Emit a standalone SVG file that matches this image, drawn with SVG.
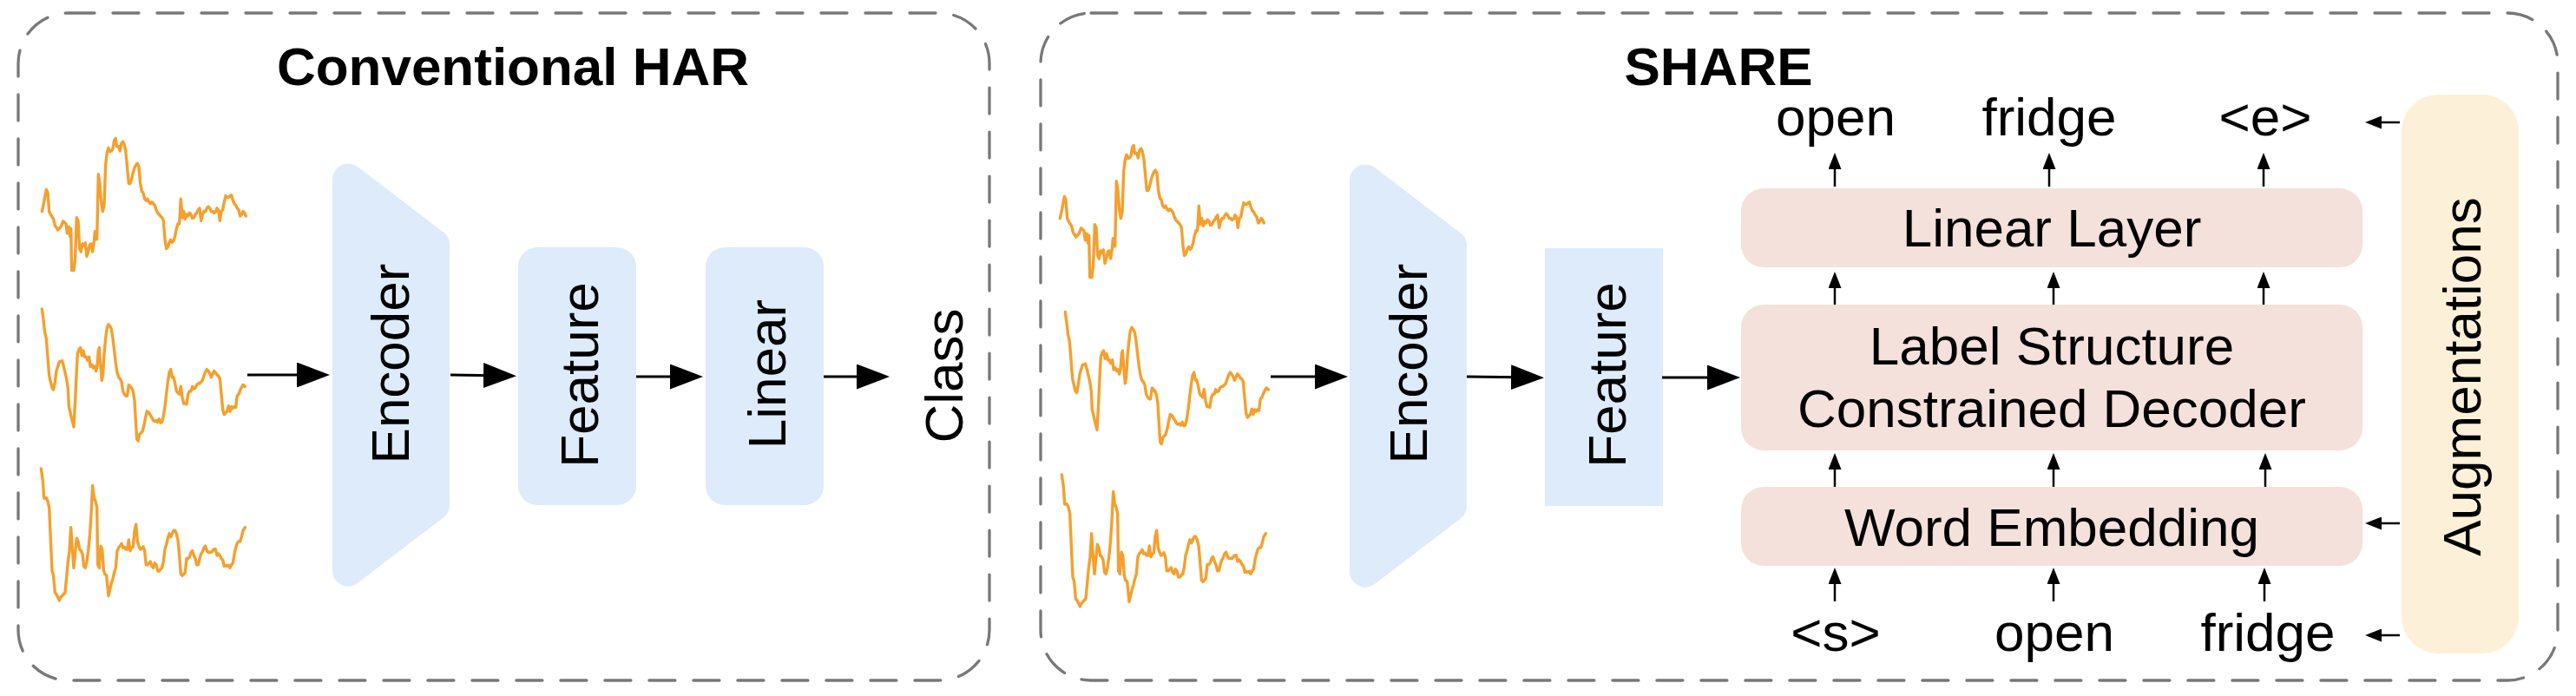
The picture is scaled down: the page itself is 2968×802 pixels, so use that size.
<svg xmlns="http://www.w3.org/2000/svg" width="2968" height="802" viewBox="0 0 2968 802">
<style>
.frame{fill:none;stroke:#787878;stroke-width:3.3;stroke-dasharray:30 21;stroke-linecap:round}
.blue{fill:#DDEBFB}
.pink{fill:#F4E1DC}
.cream{fill:#FCF1D8}
.t{font-family:"Liberation Sans",Arial,Helvetica,sans-serif;font-size:62px;fill:#000}
.title{font-weight:bold}
.mid{text-anchor:middle}
.sig{fill:none;stroke:#F4A02E;stroke-width:10.2;stroke-linejoin:round;stroke-linecap:round}
.big{stroke:#000;stroke-width:3.2;fill:none}
.small{stroke:#000;stroke-width:2.5;fill:none}
</style>
<defs>
<marker id="hb" markerUnits="userSpaceOnUse" markerWidth="38" markerHeight="29" viewBox="0 0 38 29" refX="28" refY="14.5" orient="auto">
<path d="M0,0 L38,14.5 L0,29 z" fill="#000"/>
</marker>
<marker id="hs" markerUnits="userSpaceOnUse" markerWidth="19" markerHeight="15" viewBox="0 0 19 15" refX="13" refY="7.5" orient="auto">
<path d="M0,0 L19,7.5 L0,15 z" fill="#000"/>
</marker>
<path id="s1" d="M55,290 L62,260 70,220 75,230 80,290 85,300 95,315 100,335 110,350 120,340 128,322 138,330 142,360 148,340 152,370 155,345 158,480 165,480 170,440 175,310 180,320 185,410 190,420 195,395 200,400 205,392 210,435 215,420 220,398 225,395 230,420 235,390 238,355 240,380 245,380 250,170 255,200 260,260 265,290 270,270 275,140 280,100 285,85 290,97 295,95 300,88 305,60 310,55 313,80 320,80 325,95 330,70 335,65 340,75 345,100 350,150 355,200 360,200 365,185 370,165 375,150 380,140 385,135 390,145 395,200 400,225 405,230 410,250 415,255 420,250 425,260 430,265 435,260 440,265 445,270 450,285 455,295 460,300 470,310 475,320 480,380 485,410 490,405 495,390 500,382 505,390 510,385 515,370 520,345 525,330 530,330 535,250 540,310 545,290 550,315 555,300 560,305 565,295 570,300 575,312 580,310 585,300 590,295 595,285 600,280 605,320 610,300 615,290 620,290 625,280 630,275 635,280 640,290 645,290 650,295 655,292 660,280 665,285 670,320 675,290 680,285 685,260 690,240 695,245 700,245 705,240 710,238 715,255 720,265 725,270 730,280 735,285 740,305 745,300 750,290 755,295 760,305"/>
<path id="s2" d="M55,605 L60,640 65,680 70,700 75,760 80,820 85,840 90,860 95,865 100,840 105,805 110,790 115,775 120,775 125,772 130,790 135,810 140,830 145,860 148,920 152,935 158,960 165,985 170,900 175,800 178,750 183,735 188,730 193,755 198,740 203,760 208,760 212,770 218,760 222,790 228,785 232,795 238,790 242,805 246,790 250,740 253,730 257,780 262,835 266,815 270,750 275,700 280,665 285,655 290,660 295,670 300,700 305,740 310,780 315,810 320,825 325,830 330,840 335,870 340,880 345,885 350,885 355,850 360,855 365,860 370,870 375,900 380,980 383,1025 388,1030 392,1010 397,1005 402,1000 408,980 412,960 418,935 425,940 430,948 435,955 440,965 445,967 450,965 455,970 460,960 465,972 470,970 475,950 480,920 485,880 490,840 495,810 500,800 505,825 510,825 515,845 520,870 525,875 530,880 535,855 540,890 545,910 550,910 555,912 560,880 565,870 570,870 575,855 580,862 585,860 590,850 595,845 600,845 605,840 610,835 615,820 620,808 625,800 630,805 635,812 640,825 645,815 650,805 655,810 660,818 665,820 670,830 675,880 680,930 685,945 690,940 695,935 700,918 705,935 710,920 715,925 720,920 725,922 728,895 730,885 735,880 740,868 745,858 750,850 757,855"/>
<path id="s3" d="M52,1120 L58,1160 62,1215 70,1215 75,1225 80,1245 85,1350 90,1450 95,1465 100,1520 105,1525 110,1535 115,1545 120,1535 125,1530 130,1525 135,1520 140,1470 145,1420 150,1385 155,1310 160,1380 165,1440 170,1390 175,1345 180,1355 185,1380 190,1385 195,1395 200,1435 205,1440 210,1420 215,1385 220,1340 225,1270 230,1175 235,1215 240,1225 245,1245 248,1430 253,1440 258,1370 263,1380 268,1445 272,1460 278,1465 285,1530 290,1510 295,1490 300,1475 305,1455 310,1440 315,1385 320,1375 325,1370 330,1362 335,1375 340,1373 345,1380 350,1380 355,1350 360,1385 365,1375 370,1372 375,1320 380,1300 385,1355 390,1370 395,1380 400,1378 405,1372 410,1385 415,1430 420,1430 425,1425 430,1420 435,1435 440,1440 445,1425 450,1430 455,1450 460,1450 465,1445 470,1440 475,1420 480,1380 485,1365 490,1345 495,1330 500,1340 505,1330 510,1320 515,1320 520,1330 525,1350 530,1400 535,1460 540,1465 545,1460 550,1455 555,1410 560,1410 565,1405 570,1390 575,1385 580,1400 585,1410 590,1430 595,1430 600,1410 605,1395 610,1388 615,1375 620,1370 625,1385 630,1390 635,1390 640,1390 645,1385 650,1380 655,1380 660,1400 665,1395 670,1400 675,1410 680,1415 685,1435 690,1432 695,1435 700,1432 705,1440 710,1430 715,1425 720,1395 725,1375 730,1360 735,1355 740,1355 745,1340 750,1320 757,1310"/>
<path id="enc" d="M401,206.4 L500,281.9 L500,582.1 L401,657.7 Z" fill="#DDEBFB" stroke="#DDEBFB" stroke-width="36" stroke-linejoin="round"/>
</defs>

<g id="panel-conventional">
<rect class="frame" x="21" y="15" width="1119" height="769" rx="58"/>
<text class="t title mid" x="591" y="98">Conventional HAR</text>
</g>
<g id="panel-share">
<rect class="frame" x="1199" y="15" width="1748" height="769" rx="58"/>
<text class="t title mid" x="1980" y="98">SHARE</text>
</g>

<g id="signals-left">
<g transform="translate(30,140) scale(0.33333,0.35714)">
<use href="#s1" class="sig"/>
<use href="#s2" class="sig"/>
<use href="#s3" class="sig"/>
</g>
</g>
<g id="signals-right">
<g transform="translate(1203,148) scale(0.33333,0.35714)"><use href="#s1" class="sig"/></g>
<g transform="translate(1209,143.5) scale(0.33333,0.35714)"><use href="#s2" class="sig"/></g>
<g transform="translate(1206,147) scale(0.33333,0.35714)"><use href="#s3" class="sig"/></g>
</g>

<g id="encoder-left">
<use href="#enc"/>
<text class="t mid" transform="translate(471,419) rotate(-90)">Encoder</text>
</g>
<g id="feature-left">
<rect class="blue" x="597" y="285" width="136" height="297" rx="22"/>
<text class="t mid" transform="translate(689,432) rotate(-90)">Feature</text>
</g>
<g id="linear-left">
<rect class="blue" x="813" y="285" width="136" height="297" rx="22"/>
<text class="t mid" transform="translate(905,431) rotate(-90)">Linear</text>
</g>
<g id="class-left">
<text class="t mid" transform="translate(1109,433) rotate(-90)">Class</text>
</g>

<g id="encoder-right">
<use href="#enc" transform="translate(1172,1)"/>
<text class="t mid" transform="translate(1644,419) rotate(-90)">Encoder</text>
</g>
<g id="feature-right">
<rect class="blue" x="1780" y="286" width="136" height="297"/>
<text class="t mid" transform="translate(1873,432) rotate(-90)">Feature</text>
</g>
<g id="linear-layer">
<rect class="pink" x="2006" y="217" width="716" height="91" rx="26"/>
<text class="t mid" x="2364" y="284">Linear Layer</text>
</g>
<g id="decoder">
<rect class="pink" x="2006" y="351" width="716" height="168" rx="26"/>
<text class="t mid" x="2364" y="420">Label Structure</text>
<text class="t mid" x="2364" y="492">Constrained Decoder</text>
</g>
<g id="word-embedding">
<rect class="pink" x="2006" y="561" width="716" height="91" rx="26"/>
<text class="t mid" x="2364" y="629">Word Embedding</text>
</g>
<g id="augmentations">
<rect class="cream" x="2767" y="109" width="135" height="644" rx="42"/>
<text class="t mid" transform="translate(2858,434) rotate(-90)">Augmentations</text>
</g>
<g id="outputs">
<text class="t mid" x="2115" y="156">open</text>
<text class="t mid" x="2361" y="156">fridge</text>
<text class="t mid" x="2610" y="156">&lt;e&gt;</text>
</g>
<g id="inputs">
<text class="t mid" x="2115" y="750">&lt;s&gt;</text>
<text class="t mid" x="2367" y="750">open</text>
<text class="t mid" x="2613" y="750">fridge</text>
</g>

<g id="connectors">
<line class="big" x1="285" y1="432" x2="370" y2="432" marker-end="url(#hb)"/>
<line class="big" x1="519" y1="432" x2="585" y2="433" marker-end="url(#hb)"/>
<line class="big" x1="733" y1="434" x2="800" y2="434" marker-end="url(#hb)"/>
<line class="big" x1="949" y1="434" x2="1015" y2="434" marker-end="url(#hb)"/>
<line class="big" x1="1464" y1="434" x2="1543" y2="434" marker-end="url(#hb)"/>
<line class="big" x1="1690" y1="434" x2="1769" y2="435" marker-end="url(#hb)"/>
<line class="big" x1="1915" y1="435" x2="1995" y2="435" marker-end="url(#hb)"/>

<line class="small" x1="2114" y1="215" x2="2114" y2="182" marker-end="url(#hs)"/>
<line class="small" x1="2361" y1="215" x2="2361" y2="182" marker-end="url(#hs)"/>
<line class="small" x1="2608" y1="215" x2="2608" y2="182" marker-end="url(#hs)"/>
<line class="small" x1="2114" y1="351" x2="2114" y2="319" marker-end="url(#hs)"/>
<line class="small" x1="2366" y1="351" x2="2366" y2="319" marker-end="url(#hs)"/>
<line class="small" x1="2608" y1="351" x2="2608" y2="319" marker-end="url(#hs)"/>
<line class="small" x1="2114" y1="561" x2="2114" y2="528" marker-end="url(#hs)"/>
<line class="small" x1="2366" y1="561" x2="2366" y2="528" marker-end="url(#hs)"/>
<line class="small" x1="2610" y1="561" x2="2610" y2="528" marker-end="url(#hs)"/>
<line class="small" x1="2114" y1="693" x2="2114" y2="660" marker-end="url(#hs)"/>
<line class="small" x1="2366" y1="693" x2="2366" y2="660" marker-end="url(#hs)"/>
<line class="small" x1="2609" y1="693" x2="2609" y2="660" marker-end="url(#hs)"/>

<line class="small" x1="2765" y1="141" x2="2731" y2="141" marker-end="url(#hs)"/>
<line class="small" x1="2765" y1="603" x2="2731" y2="603" marker-end="url(#hs)"/>
<line class="small" x1="2765" y1="732" x2="2731" y2="732" marker-end="url(#hs)"/>
</g>
</svg>
